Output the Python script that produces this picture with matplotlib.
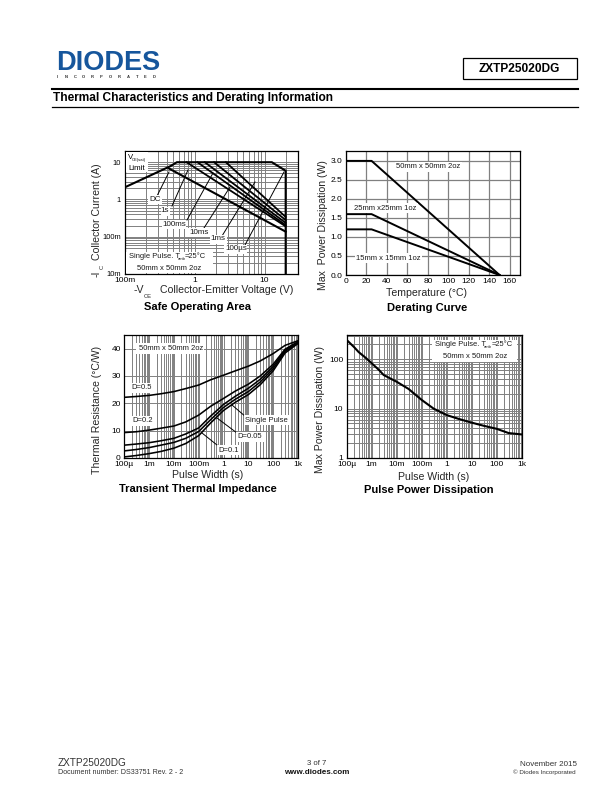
import matplotlib
matplotlib.use("Agg")
import matplotlib.pyplot as plt
from matplotlib.ticker import FixedLocator, NullFormatter, NullLocator
from matplotlib.lines import Line2D
from matplotlib.patches import Rectangle

plt.rcParams['font.family'] = ['Liberation Sans', 'DejaVu Sans']
W, H = 612, 792

# Safe operating area
soa_limit_v = [0.1, 0.45, 0.56, 12.7, 20, 20]
soa_limit_i = [2.1, 7.8, 10, 10, 5.9, 0.01]
soa_dc_v = [0.43, 20]
soa_dc_i = [6.8, 0.137]
soa_pulse_start_v = [0.77, 1.1, 1.4, 1.9, 2.8]
soa_pulse_end_i = [0.19, 0.205, 0.235, 0.28, 0.34]
soa_labels = ['DC', '1s', '100ms', '10ms', '1ms', '100µs']

# Derating
der_t = [0, 25, 150]
der_50 = [3.0, 3.0, 0]
der_25 = [1.6, 1.6, 0]
der_15 = [1.2, 1.2, 0]

# Transient thermal impedance
t_width = [1e-4, 3e-4, 1e-3, 3e-3, 1e-2, 3e-2, 1e-1, 3e-1, 1, 3, 10, 30, 100, 300, 1000]
z_d05 = [22.2, 22.5, 22.9, 23.5, 24.3, 25.4, 26.7, 28.6, 30.3, 31.9, 33.6, 35.5, 38.2, 41.2, 42.9]
z_d02 = [9.3, 9.6, 10.2, 10.9, 11.7, 13.2, 15.7, 18.9, 21.8, 24.5, 27.0, 30.0, 34.3, 39.8, 42.6]
z_d01 = [4.7, 5.1, 5.6, 6.3, 7.2, 8.8, 11.0, 15.3, 19.6, 22.6, 25.5, 28.8, 33.5, 39.4, 42.3]
z_d005 = [2.6, 3.1, 3.8, 4.7, 5.7, 7.2, 9.7, 14.0, 18.5, 21.5, 24.3, 27.8, 32.7, 39.0, 42.1]
z_single = [0.4, 0.9, 1.6, 2.4, 3.6, 5.3, 8.2, 12.8, 17.4, 20.4, 23.2, 26.8, 31.9, 38.4, 41.9]

# Pulse power
p_width = [1e-4, 2e-4, 3e-4, 6e-4, 1e-3, 2e-3, 3e-3, 6e-3, 1e-2, 3e-2, 1e-1, 3e-1, 1, 3, 10, 30, 100, 300, 1000]
p_max = [246, 175, 140, 105, 83, 60, 48, 40, 35, 25, 15, 10, 7.4, 6.2, 5.2, 4.5, 3.9, 3.2, 3.0]

fig = plt.figure(figsize=(W/100, H/100), dpi=100, facecolor='white')

GRID = '#808080'
LABEL = '#262626'

def box(l, t, r, b):
    return [l/W, 1-b/H, (r-l)/W, (b-t)/H]

def style(ax, logx, logy, lw=0.7):
    ax.set_axisbelow(True)
    if logx:
        ax.set_xscale('log')
    if logy:
        ax.set_yscale('log')
    ax.grid(True, which='major', color=GRID, lw=lw)
    if logx or logy:
        ax.grid(True, which='minor', color=GRID, lw=lw)
    for s in ax.spines.values():
        s.set_linewidth(0.9)
        s.set_color('black')
    ax.tick_params(which='both', length=0, labelsize=6.0, pad=2.5)

def txt(x, y, s, z=7, **kw):
    kw.setdefault('va', 'center')
    fig.text(x/W, 1-y/H, s, zorder=z, **kw)

def white(l, t, r, b):
    fig.add_artist(Rectangle((l/W, 1-b/H), (r-l)/W, (b-t)/H, transform=fig.transFigure,
                             facecolor='white', edgecolor='none', zorder=5))

def leader(x0, y0, x1, y1):
    fig.add_artist(Line2D([x0/W, x1/W], [1-y0/H, 1-y1/H], color='black', lw=0.7, zorder=4))

def note(x, y, s, size=5.5):
    txt(x, y, s, fontsize=size, ha='center', color='#1a1a1a')

def amb(x0, y, xs, x2, size=5.4):
    txt(x0, y, 'Single Pulse. T', fontsize=size, ha='left', color='#1a1a1a')
    txt(xs, y+2.5, 'amb', fontsize=3.0, ha='left', color='#1a1a1a')
    txt(x2, y, '=25°C', fontsize=size, ha='left', color='#1a1a1a')

# ---- SOA
ax = fig.add_axes(box(124.5, 151, 298, 274))
style(ax, True, True)
ax.set_xlim(0.1, 30)
ax.set_ylim(0.01, 20)
ax.plot(soa_limit_v, soa_limit_i, color='black', lw=1.5, zorder=4, solid_joinstyle='miter')
ax.plot(soa_dc_v, soa_dc_i, color='black', lw=1.5, zorder=4)
for v, i in zip(soa_pulse_start_v, soa_pulse_end_i):
    ax.plot([v, 20], [10, i], color='black', lw=1.3, zorder=4)
ax.xaxis.set_major_locator(FixedLocator([0.1, 1, 10]))
ax.set_xticklabels(['100m', '1', '10'])
ax.yaxis.set_major_locator(FixedLocator([0.01, 0.1, 1, 10]))
ax.set_yticklabels(['10m', '100m', '1', '10'])
ax.xaxis.set_minor_formatter(NullFormatter())
ax.yaxis.set_minor_formatter(NullFormatter())
ax.tick_params(axis='y', labelsize=5.4)
white(125.5, 152, 148, 172)
txt(128, 157.5, 'V', fontsize=5.6, ha='left')
txt(132, 159.5, 'CE(sat)', fontsize=3.0, ha='left')
txt(128, 169, 'Limit', fontsize=5.8, ha='left')
leader(169, 172, 157, 196)
leader(188, 170, 172, 206)
leader(213, 173, 187, 220)
leader(230, 187, 204, 228)
leader(255, 182, 222, 236)
leader(284, 172, 245, 245)
for (x, y, l, w, h) in [(155, 199.5, soa_labels[0], 14, 9), (165, 211, soa_labels[1], 9, 9),
                        (174, 224, soa_labels[2], 24, 9), (199, 232, soa_labels[3], 22, 9),
                        (218, 239, soa_labels[4], 17, 9), (236, 249, soa_labels[5], 23, 9)]:
    white(x-w/2, y-h/2, x+w/2, y+h/2)
    note(x, y, l, 5.8)
white(125.5, 252, 213, 273)
amb(129, 256, 177.5, 185)
note(169, 268, '50mm x 50mm 2oz')
txt(96.5, 212, 'Collector Current (A)', rotation=90, ha='center', fontsize=7.6, color=LABEL)
txt(96.5, 273.5, '-I', rotation=90, ha='center', fontsize=7.6, color=LABEL)
txt(102.5, 267, 'C', rotation=90, ha='center', fontsize=4.2, color=LABEL)
txt(134, 290, '-V', ha='left', fontsize=7.6, color=LABEL)
txt(144, 296, 'CE', ha='left', fontsize=4.2, color=LABEL)
txt(160, 290, 'Collector-Emitter Voltage (V)', ha='left', fontsize=7.6, color=LABEL)
txt(197, 306.5, 'Safe Operating Area', ha='center', fontsize=8.0, fontweight='bold')

# ---- Derating
ax = fig.add_axes(box(346, 151, 520, 275))
style(ax, False, False, lw=0.9)
ax.set_xlim(0, 170)
ax.set_ylim(0, 3.26)
ax.plot(der_t, der_50, color='black', lw=1.4, zorder=4)
ax.plot(der_t, der_25, color='black', lw=1.4, zorder=4)
ax.plot(der_t, der_15, color='black', lw=1.4, zorder=4)
ax.set_xticks(range(0, 161, 20))
ax.set_yticks([0, 0.5, 1, 1.5, 2, 2.5, 3])
ax.set_yticklabels(['0.0', '0.5', '1.0', '1.5', '2.0', '2.5', '3.0'])
white(395, 162, 462, 172)
note(428.5, 167, '50mm x 50mm 2oz')
white(353, 203, 418, 213)
note(385.5, 208, '25mm x25mm 1oz')
white(355, 253, 422, 263)
note(388.5, 258, '15mm x 15mm 1oz')
txt(323, 225, 'Max  Power Dissipation (W)', rotation=90, ha='center', fontsize=7.6, color=LABEL)
txt(426, 293, 'Temperature (°C)', ha='center', fontsize=7.6, color=LABEL)
txt(427, 308, 'Derating Curve', ha='center', fontsize=8.0, fontweight='bold')

# ---- Transient
ax = fig.add_axes(box(124.3, 335, 298, 458))
style(ax, True, False)
ax.set_xlim(1e-4, 1e3)
ax.set_ylim(0, 45)
ax.yaxis.set_major_locator(FixedLocator([0, 10, 20, 30, 40]))
ax.yaxis.set_minor_locator(NullLocator())
ax.xaxis.set_major_locator(FixedLocator([1e-4, 1e-3, 1e-2, 1e-1, 1, 10, 100, 1000]))
ax.set_xticklabels(['100µ', '1m', '10m', '100m', '1', '10', '100', '1k'])
ax.xaxis.set_minor_formatter(NullFormatter())
for z in (z_d05, z_d02, z_d01, z_d005, z_single):
    ax.plot(t_width, z, color='black', lw=1.15, zorder=4)
white(136, 343, 204, 354)
note(171.5, 349, '50mm x 50mm 2oz')
white(130, 383, 154, 393)
note(142, 388, 'D=0.5')
white(131, 416, 155, 426)
note(143, 421, 'D=0.2')
white(244, 415, 289, 425)
note(266.5, 420, 'Single Pulse')
white(236, 432, 264, 442)
note(250, 437, 'D=0.05')
white(217, 445, 241, 455)
note(229, 450, 'D=0.1')
leader(232, 405, 246, 417)
leader(217, 418, 237, 433)
leader(202, 433, 217, 445)
txt(97, 410, 'Thermal Resistance (°C/W)', rotation=90, ha='center', fontsize=7.6, color=LABEL)
txt(208, 475, 'Pulse Width (s)', ha='center', fontsize=7.6, color=LABEL)
txt(198, 488.5, 'Transient Thermal Impedance', ha='center', fontsize=8.0, fontweight='bold')

# ---- Pulse power
ax = fig.add_axes(box(346.7, 335, 521.7, 458))
style(ax, True, True)
ax.set_xlim(1e-4, 1e3)
ax.set_ylim(1, 310)
ax.xaxis.set_major_locator(FixedLocator([1e-4, 1e-3, 1e-2, 1e-1, 1, 10, 100, 1000]))
ax.set_xticklabels(['100µ', '1m', '10m', '100m', '1', '10', '100', '1k'])
ax.xaxis.set_minor_formatter(NullFormatter())
ax.yaxis.set_major_locator(FixedLocator([1, 10, 100]))
ax.set_yticklabels(['1', '10', '100'])
ax.yaxis.set_minor_formatter(NullFormatter())
ax.plot(p_width, p_max, color='black', lw=1.5, zorder=4)
white(432, 340, 517, 362)
amb(435, 345, 484, 491.5)
note(475, 357, '50mm x 50mm 2oz')
txt(320, 410, 'Max Power Dissipation (W)', rotation=90, ha='center', fontsize=7.6, color=LABEL)
txt(434, 476.5, 'Pulse Width (s)', ha='center', fontsize=7.6, color=LABEL)
txt(429, 490, 'Pulse Power Dissipation', ha='center', fontsize=8.0, fontweight='bold')

# ---- Page furniture
txt(56, 62.5, 'DIODES', fontsize=19.5, fontweight='bold', color='#16569c', ha='left')
for k, ch in enumerate('INCORPORATED'):
    txt(57.5 + k*8.8, 77, ch, fontsize=3.0, fontweight='bold', color='#333333', ha='center')
fig.add_artist(Rectangle((463/W, 1-79/H), 114/W, 21.5/H, transform=fig.transFigure,
                         facecolor='none', edgecolor='black', lw=0.9))
txt(519.5, 68.5, 'ZXTP25020DG', fontsize=8.6, fontweight='bold', ha='center')
fig.add_artist(Line2D([52/W, 578/W], [1-89/H, 1-89/H], color='black', lw=1.5))
fig.add_artist(Line2D([52/W, 578/W], [1-106.5/H, 1-106.5/H], color='black', lw=0.9))
txt(53, 98, 'Thermal Characteristics and Derating Information', fontsize=8.6, fontweight='bold')
txt(57.5, 763.5, 'ZXTP25020DG', fontsize=7.2, color='#333333')
txt(57.5, 773, 'Document number: DS33751 Rev. 2 - 2', fontsize=5.1, color='#333333')
txt(316.5, 763.5, '3 of 7', fontsize=5.6, ha='center', color='#333333')
txt(317, 772.5, 'www.diodes.com', fontsize=5.8, fontweight='bold', ha='center', color='#111111')
txt(577, 764.5, 'November 2015', fontsize=5.8, ha='right', color='#333333')
txt(576, 772.5, '© Diodes Incorporated', fontsize=4.5, ha='right', color='#333333')

fig.savefig('out.png', dpi=100, facecolor='white')
